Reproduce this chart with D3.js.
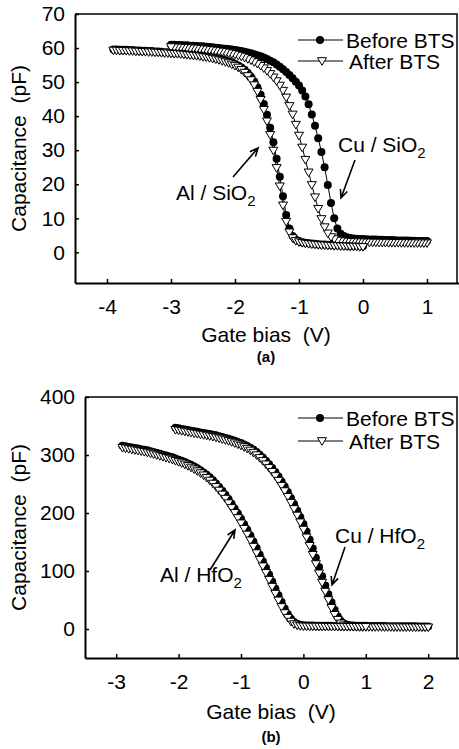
<!DOCTYPE html>
<html>
<head>
<meta charset="utf-8">
<script src="https://cdn.jsdelivr.net/npm/d3@7"></script>
<style>
  html, body { margin: 0; padding: 0; background: #fff; }
  svg text { font-family: "Liberation Sans", Arial, sans-serif; fill: #000; white-space: pre; }
</style>
</head>
<body>
<script>
// bias sweep step (V) shared by every curve
var STEP = 0.05;

// ---- panel (a): Cu / SiO2 and Al / SiO2, capacitance in pF ----
var aCuStart = -3.0;
var aCuBefore = [
  61.0, 61.0, 60.9, 60.9, 60.8, 60.8, 60.7, 60.7, 60.6, 60.5,
  60.5, 60.4, 60.3, 60.2, 60.1, 60.0, 59.9, 59.8, 59.7, 59.6,
  59.4, 59.3, 59.1, 58.9, 58.7, 58.5, 58.2, 57.9, 57.6, 57.2,
  56.8, 56.3, 55.8, 55.2, 54.5, 53.8, 53.0, 52.1, 51.1, 50.1,
  49.0, 47.5, 45.8, 43.5, 40.5, 37.2, 33.5, 29.5, 25.0, 19.8,
  14.5, 10.0, 7.0, 5.5, 4.8, 4.4, 4.2, 4.1, 4.0, 3.9,
  3.9, 3.85, 3.8, 3.8, 3.75, 3.7, 3.7, 3.65, 3.6, 3.6,
  3.55, 3.5, 3.5, 3.45, 3.45, 3.4, 3.4, 3.35, 3.35, 3.3,
  3.3
];
var aCuAfter = [
  60.3, 60.2, 60.2, 60.1, 60.1, 60.0, 59.9, 59.9, 59.8, 59.7,
  59.6, 59.5, 59.4, 59.3, 59.2, 59.0, 58.9, 58.7, 58.5, 58.3,
  58.1, 57.8, 57.5, 57.2, 56.8, 56.4, 55.9, 55.4, 54.8, 54.1,
  53.3, 52.4, 51.4, 50.3, 49.0, 47.5, 45.5, 43.0, 40.5, 37.5,
  34.3, 30.8, 27.2, 23.5, 19.8, 16.2, 12.8, 9.8, 7.4, 5.6,
  4.5, 3.9, 3.5, 3.3, 3.2, 3.1, 3.1, 3.0, 3.0, 3.0,
  2.95, 2.95, 2.9, 2.9, 2.9, 2.85, 2.85, 2.85, 2.8, 2.8,
  2.8, 2.8, 2.75, 2.75, 2.75, 2.75, 2.7, 2.7, 2.7, 2.7,
  2.7
];
var aAlStart = -3.9;
var aAlBefore = [
  59.6, 59.6, 59.5, 59.5, 59.5, 59.4, 59.4, 59.3, 59.3, 59.2,
  59.2, 59.1, 59.1, 59.0, 59.0, 58.9, 58.8, 58.8, 58.7, 58.6,
  58.6, 58.5, 58.4, 58.3, 58.2, 58.1, 58.0, 57.9, 57.8, 57.6,
  57.5, 57.3, 57.1, 56.9, 56.7, 56.4, 56.1, 55.8, 55.4, 54.9,
  54.3, 53.6, 52.7, 51.6, 50.2, 48.5, 46.3, 43.6, 40.4, 36.6,
  32.3, 27.5, 22.2, 16.5, 11.0, 7.0, 4.8, 3.8, 3.3, 3.0,
  2.8, 2.7, 2.6, 2.5, 2.4, 2.3, 2.3, 2.2, 2.2, 2.1,
  2.1, 2.0, 2.0, 2.0, 1.9, 1.9, 1.9, 1.8, 1.8
];
var aAlAfter = [
  59.3, 59.3, 59.2, 59.2, 59.2, 59.1, 59.1, 59.0, 59.0, 58.9,
  58.9, 58.8, 58.8, 58.7, 58.7, 58.6, 58.5, 58.5, 58.4, 58.3,
  58.3, 58.2, 58.1, 58.0, 57.9, 57.8, 57.7, 57.6, 57.4, 57.3,
  57.1, 56.9, 56.7, 56.5, 56.2, 55.9, 55.6, 55.2, 54.8, 54.3,
  53.6, 52.8, 51.8, 50.6, 49.1, 47.2, 44.8, 41.9, 38.5, 34.5,
  29.9, 24.8, 19.4, 13.8, 9.0, 5.9, 4.2, 3.4, 3.0, 2.8,
  2.6, 2.5, 2.4, 2.3, 2.2, 2.1, 2.1, 2.0, 2.0, 1.9,
  1.9, 1.8, 1.8, 1.8, 1.7, 1.7, 1.7, 1.6, 1.6
];
var aXTicks = [-4, -3, -2, -1, 0, 1];
var aYTicks = [0, 10, 20, 30, 40, 50, 60, 70];

// ---- panel (b): Cu / HfO2 and Al / HfO2, capacitance in pF ----
var bCuStart = -2.05;
var bCuBefore = [
  347, 346, 345, 344, 343, 342, 341, 340, 339, 338,
  337, 336, 335, 334, 332.5, 331, 329.5, 328, 326.5, 324.5,
  322.5, 320.5, 318, 315.5, 312.5, 309, 305, 300.5, 295.5, 290,
  284, 277.5, 270.5, 263, 254.5, 245.5, 236, 226, 215.5, 204.5,
  193, 181, 168, 154, 139, 123, 107, 91, 75, 60,
  46, 33, 22, 14, 9.5, 7.5, 6.5, 6.0, 5.8, 5.6,
  5.5, 5.4, 5.3, 5.2, 5.1, 5.1, 5.0, 5.0, 4.9, 4.9,
  4.8, 4.8, 4.7, 4.7, 4.7, 4.6, 4.6, 4.6, 4.5, 4.5,
  4.5, 4.4
];
var bCuAfter = [
  343.5, 342.5, 341.5, 340.5, 339.5, 338.5, 337.5, 336.5, 335.5, 334.5,
  333.5, 332.5, 331.5, 330.3, 328.8, 327.3, 325.8, 324.3, 322.5, 320.5,
  318.5, 316.3, 313.8, 311, 307.8, 304, 299.8, 295, 289.8, 284,
  277.8, 271, 263.8, 255.8, 247, 237.8, 228, 217.8, 207, 195.8,
  184, 171.5, 158, 143.5, 128, 112, 96, 80, 64.5, 50,
  36.5, 24.5, 16, 9.8, 6.5, 5.0, 4.3, 4.0, 3.8, 3.7,
  3.6, 3.6, 3.5, 3.5, 3.4, 3.4, 3.4, 3.3, 3.3, 3.3,
  3.2, 3.2, 3.2, 3.1, 3.1, 3.1, 3.0, 3.0, 3.0, 3.0,
  2.9, 2.9
];
var bAlStart = -2.9;
var bAlBefore = [
  316, 315, 314, 313, 312, 311, 310, 309, 308, 306.5,
  305, 303.5, 302, 300.5, 299, 297.5, 296, 294, 292, 290,
  288, 285.5, 283, 280, 277, 273.5, 270, 266, 261.5, 256.5,
  251, 245, 238.5, 231.5, 224, 216, 207.5, 199, 190, 180.5,
  171, 161, 150.5, 139.5, 128, 117, 105.5, 94, 82, 70,
  58, 46.5, 35.5, 25.5, 17.5, 12, 9, 7.5, 6.5, 6.2,
  6.0, 5.9, 5.8, 5.7, 5.6, 5.5, 5.5, 5.4, 5.3, 5.3,
  5.2, 5.2, 5.1, 5.1, 5.0, 5.0, 5.0, 4.9, 4.9
];
var bAlAfter = [
  312.5, 311.5, 310.5, 309.5, 308.5, 307.5, 306.5, 305.5, 304.3, 302.8,
  301.3, 299.8, 298.3, 296.8, 295.3, 293.8, 292, 290, 288, 286,
  283.8, 281.3, 278.5, 275.5, 272.3, 268.8, 265, 260.8, 256, 250.8,
  245, 238.8, 232, 224.8, 217, 208.8, 200.3, 191.5, 182.3, 172.8,
  163, 152.8, 142, 130.8, 119.5, 108.3, 96.8, 85, 73, 61,
  49.3, 38, 27.5, 19.5, 12.8, 8.5, 6.3, 5.2, 4.7, 4.5,
  4.4, 4.3, 4.2, 4.2, 4.1, 4.1, 4.0, 4.0, 4.0, 3.9,
  3.9, 3.9, 3.8, 3.8, 3.8, 3.8, 3.7, 3.7, 3.7
];
var bXTicks = [-3, -2, -1, 0, 1, 2];
var bYTicks = [0, 100, 200, 300, 400];

var legendLabels = ["Before BTS", "After BTS"];

// marker shapes, centred on the data point
var circlePath = d3.symbol().type(d3.symbolCircle).size(Math.PI * 16)();
var triPath = "M-4.5,-3.3L4.5,-3.3L0,4.3Z";

var svg = d3.select("body").append("svg")
    .attr("width", 459)
    .attr("height", 749);

// turn a capacitance list into points on the bias sweep
function toPoints(start, values) {
    return values.map(function (c, i) {
        return { v: start + i * STEP, c: c };
    });
}

function drawMarker(sel, kind) {
    if (kind === "circle") {
        sel.attr("d", circlePath).attr("fill", "#000").attr("stroke", "none");
    } else {
        sel.attr("d", triPath).attr("fill", "#fff").attr("stroke", "#000").attr("stroke-width", 1);
    }
}

function drawArrow(g, x1, y1, x2, y2) {
    var a = Math.atan2(y2 - y1, x2 - x1);
    var len = 9, spread = 0.42;
    g.append("path")
        .attr("d", "M" + x1 + "," + y1 + "L" + x2 + "," + y2 +
            "M" + (x2 - len * Math.cos(a - spread)) + "," + (y2 - len * Math.sin(a - spread)) +
            "L" + x2 + "," + y2 +
            "L" + (x2 - len * Math.cos(a + spread)) + "," + (y2 - len * Math.sin(a + spread)))
        .attr("fill", "none")
        .attr("stroke", "#000")
        .attr("stroke-width", 1.6);
}

function drawPanel(p) {
    var x = d3.scaleLinear().domain(p.xDomain).range([p.left, p.xEnd]);
    var y = d3.scaleLinear().domain(p.yDomain).range([p.bottom, p.top]);
    var g = svg.append("g");

    // curves: before series first, after series on top
    var line = d3.line()
        .x(function (d) { return x(d.v); })
        .y(function (d) { return y(d.c); });
    p.series.forEach(function (s) {
        var pts = toPoints(s.start, s.values);
        g.append("path")
            .attr("d", line(pts))
            .attr("fill", "none")
            .attr("stroke", "#000")
            .attr("stroke-width", 1);
        var order = s.reverse ? pts.slice().reverse() : pts;
        g.append("g").selectAll("path")
            .data(order)
            .enter().append("path")
            .call(drawMarker, s.marker)
            .attr("transform", function (d) { return "translate(" + x(d.v) + "," + y(d.c) + ")"; });
    });

    // frame top and right
    g.append("path")
        .attr("d", "M" + p.left + "," + p.top + "H" + p.right + "V" + p.bottom)
        .attr("fill", "none")
        .attr("stroke", "#000")
        .attr("stroke-width", 1.5);

    var xAxis = g.append("g")
        .attr("transform", "translate(0," + p.bottom + ")")
        .call(d3.axisBottom(x).tickValues(p.xTicks).tickSize(-4).tickSizeOuter(0).tickPadding(16)
            .tickFormat(d3.format("d")));
    var yAxis = g.append("g")
        .attr("transform", "translate(" + p.left + ",0)")
        .call(d3.axisLeft(y).tickValues(p.yTicks).tickSize(-4).tickSizeOuter(0).tickPadding(10)
            .tickFormat(d3.format("d")));
    [xAxis, yAxis].forEach(function (ax) {
        ax.attr("font-family", null).attr("font-size", null);
        ax.select(".domain").attr("stroke-width", 2);
        ax.selectAll(".tick line").attr("stroke-width", 1.5);
        ax.selectAll(".tick text").attr("font-size", 21).text(function (d) { return d < 0 ? "-" + (-d) : d; });
    });

    // axis titles and panel tag
    g.append("text")
        .attr("x", (p.left + p.right) / 2)
        .attr("y", p.xTitleY)
        .attr("text-anchor", "middle")
        .attr("font-size", 21)
        .text("Gate bias  (V)");
    g.append("text")
        .attr("transform", "translate(26," + ((p.top + p.bottom) / 2) + ") rotate(-90)")
        .attr("text-anchor", "middle")
        .attr("font-size", 21)
        .text("Capacitance  (pF)");
    g.append("text")
        .attr("x", (p.left + p.right) / 2)
        .attr("y", p.tagY)
        .attr("text-anchor", "middle")
        .attr("font-family", "'Liberation Serif', 'Times New Roman', serif")
        .attr("font-weight", "bold")
        .attr("font-size", 15)
        .text(p.tag);

    // legend
    legendLabels.forEach(function (label, i) {
        var ly = p.legendY[i];
        var lg = g.append("g");
        lg.append("line")
            .attr("x1", 298).attr("x2", 343).attr("y1", ly).attr("y2", ly)
            .attr("stroke", "#000").attr("stroke-width", 1.2);
        lg.append("path")
            .call(drawMarker, i === 0 ? "circle" : "triangle")
            .attr("transform", "translate(" + (i === 0 ? 320 : 322) + "," + ly + ")");
        lg.append("text")
            .attr("x", i === 0 ? 346 : 349)
            .attr("y", ly + 7.5)
            .attr("font-size", 21)
            .text(label);
    });

    // material labels with arrows
    p.notes.forEach(function (n) {
        var t = g.append("text")
            .attr("x", n.tx)
            .attr("y", n.ty)
            .attr("font-size", 21)
            .text(n.text);
        t.append("tspan")
            .attr("dy", 6)
            .attr("font-size", 15)
            .text("2");
        drawArrow(g, n.arrow[0], n.arrow[1], n.arrow[2], n.arrow[3]);
    });
}

drawPanel({
    left: 75, right: 457, xEnd: 459, top: 14, bottom: 283,
    xDomain: [-4.5, 1.5], yDomain: [-9, 70],
    xTicks: aXTicks, yTicks: aYTicks,
    xTitleY: 342, tagY: 362, tag: "(a)",
    legendY: [40, 61],
    series: [
        { start: aCuStart, values: aCuBefore, marker: "circle" },
        { start: aAlStart, values: aAlBefore, marker: "circle" },
        { start: aCuStart, values: aCuAfter, marker: "triangle", reverse: true },
        { start: aAlStart, values: aAlAfter, marker: "triangle" }
    ],
    notes: [
        { text: "Cu / SiO", tx: 338, ty: 152, arrow: [355, 160, 341, 198] },
        { text: "Al / SiO", tx: 176, ty: 200, arrow: [233, 177, 258, 148] }
    ]
});

drawPanel({
    left: 85, right: 457, xEnd: 459.4, top: 397, bottom: 658,
    xDomain: [-3.5, 2.5], yDomain: [-50, 400],
    xTicks: bXTicks, yTicks: bYTicks,
    xTitleY: 719, tagY: 742, tag: "(b)",
    legendY: [418, 441],
    series: [
        { start: bCuStart, values: bCuBefore, marker: "circle" },
        { start: bAlStart, values: bAlBefore, marker: "circle" },
        { start: bCuStart, values: bCuAfter, marker: "triangle" },
        { start: bAlStart, values: bAlAfter, marker: "triangle" }
    ],
    notes: [
        { text: "Cu / HfO", tx: 335, ty: 543, arrow: [345, 547, 332, 585] },
        { text: "Al / HfO", tx: 160, ty: 582, arrow: [210, 570, 235, 530] }
    ]
});
</script>
</body>
</html>
